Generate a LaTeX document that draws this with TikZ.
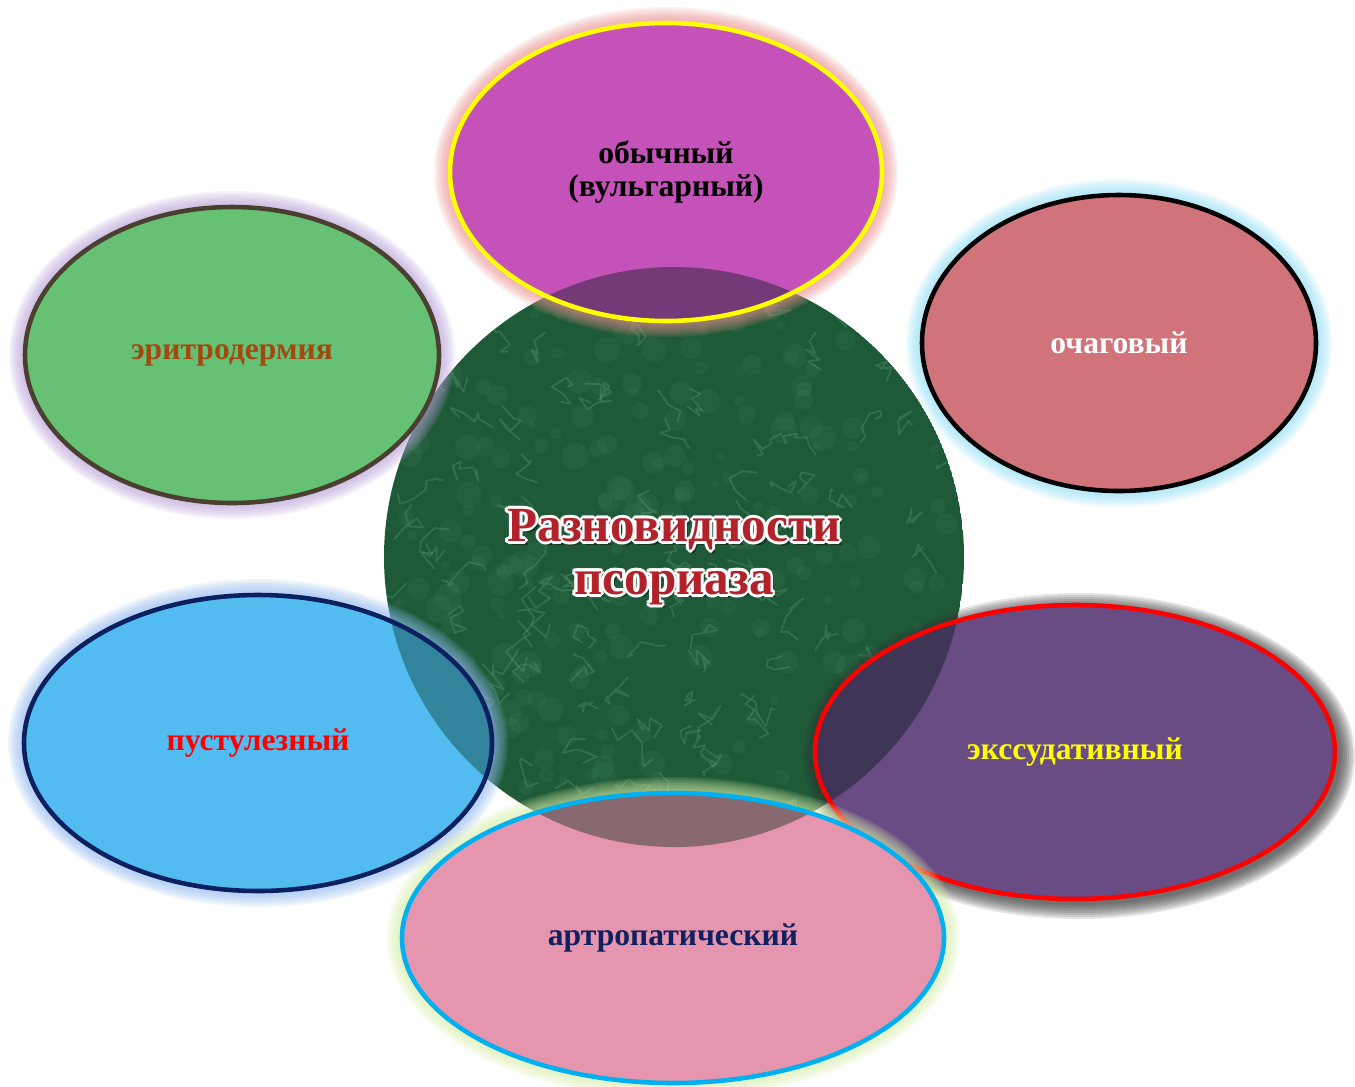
\documentclass[tikz,border=0pt]{standalone}
\usepackage{fontspec}
\setmainfont{Liberation Serif}
\usetikzlibrary{calc}

\definecolor{marble}{HTML}{1E5A38}
\definecolor{veingreen}{HTML}{86C8A0}
\definecolor{titlered}{HTML}{B2222A}
\definecolor{erfill}{HTML}{66C174}
\definecolor{erline}{HTML}{4A4030}
\definecolor{erglow}{HTML}{B9A0DA}
\definecolor{ertext}{HTML}{A04A10}
\definecolor{obfill}{HTML}{C452B8}
\definecolor{obline}{HTML}{FFFF00}
\definecolor{obglow}{HTML}{EE9090}
\definecolor{obtext}{HTML}{000000}
\definecolor{ocfill}{HTML}{D0737B}
\definecolor{ocline}{HTML}{000000}
\definecolor{ocglow}{HTML}{90E0F8}
\definecolor{octext}{HTML}{FFFFFF}
\definecolor{pufill}{HTML}{52BBF0}
\definecolor{puline}{HTML}{0A2060}
\definecolor{puglow}{HTML}{90B8F0}
\definecolor{putext}{HTML}{FF0000}
\definecolor{exfill}{HTML}{6A4C85}
\definecolor{exline}{HTML}{FF0000}
\definecolor{exglow}{HTML}{303030}
\definecolor{extext}{HTML}{FFFF00}
\definecolor{arfill}{HTML}{E595AE}
\definecolor{arline}{HTML}{00B0F0}
\definecolor{arglow}{HTML}{D8F0A8}
\definecolor{artext}{HTML}{102060}

\tikzset{
  blob/.style={line width=2.6pt},
  tag/.style={font=\bfseries\fontsize{18}{19}\selectfont, align=center},
  headline/.style={font=\bfseries\fontsize{28}{30}\selectfont, align=center},
  vein/.style={draw=veingreen, line width=1pt, opacity=0.2, line join=round},
  cloud/.style={fill=veingreen, opacity=0.06},
}

\begin{document}
\begin{tikzpicture}[x=0.02cm, y=-0.02cm]
  \useasboundingbox (0,0) rectangle (1355,1086);
  \fill[white] (0,0) rectangle (1355,1086);
  % centre disc
  \coordinate (c0) at (674,557);
  \begin{scope}
    \clip (c0) circle [radius=290];
    \fill[marble] (c0) circle [radius=290];
    \pgfmathsetseed{11}
    \foreach \i in {1,...,300}
      \fill[cloud] ({384+580*rnd},{267+580*rnd}) circle [radius={4+10*rnd}];
    \foreach \i in {1,...,110}
      \draw[vein] ({384+580*rnd},{267+580*rnd}) -- ++({15*rand},{15*rand}) -- ++({15*rand},{15*rand}) -- ++({15*rand},{15*rand}) -- ++({15*rand},{15*rand}) -- ++({15*rand},{15*rand}) -- ++({15*rand},{15*rand});
  \end{scope}
  % title
  \node[headline, text=black, opacity=0.4] (shade) at ($(c0)+(2pt,-2pt)$) {Разновидности\\псориаза};
  \foreach \a in {0,30,...,330}
    \node[headline, text=white] (halo\a) at ($(c0)+(\a:1.6pt)$) {Разновидности\\псориаза};
  \node[headline, text=titlered] (title) at (c0) {Разновидности\\псориаза};
  % ellipses
  \foreach \n/\x/\y/\rx/\ry/\fc/\bc/\gc/\off/\tc/\txt in {
      eritro/232/355/207/148/erfill/erline/erglow/0/ertext/эритродермия,
      obych/666/172/216/149/obfill/obline/obglow/0/obtext/{обычный\\(вульгарный)},
      ochag/1119/343/197/148/ocfill/ocline/ocglow/0/octext/очаговый,
      pustul/258/743/234/148/pufill/puline/puglow/0/putext/пустулезный,
      exsud/1075/752/260/147/exfill/exline/exglow/4/extext/экссудативный,
      artro/673/938/271/145/arfill/arline/arglow/0/artext/артропатический}
  {
    \foreach \k in {2,4,...,16}
      \fill[\gc, opacity=0.13, even odd rule] (\x+\off,\y+\off) ellipse [x radius=\rx+\k, y radius=\ry+\k] (\x,\y) ellipse [x radius=\rx, y radius=\ry];
    \fill[\fc] (\x,\y) ellipse [x radius=\rx, y radius=\ry];
    \begin{scope}
      \clip (\x,\y) ellipse [x radius=\rx, y radius=\ry];
      \fill[marble, opacity=0.45, blend mode=multiply] (c0) circle [radius=290];
    \end{scope}
    \draw[blob, draw=\bc] (\x,\y) ellipse [x radius=\rx, y radius=\ry];
    \node[tag, text=\tc] (\n) at (\x,\y) {\txt};
  }
\end{tikzpicture}
\end{document}
